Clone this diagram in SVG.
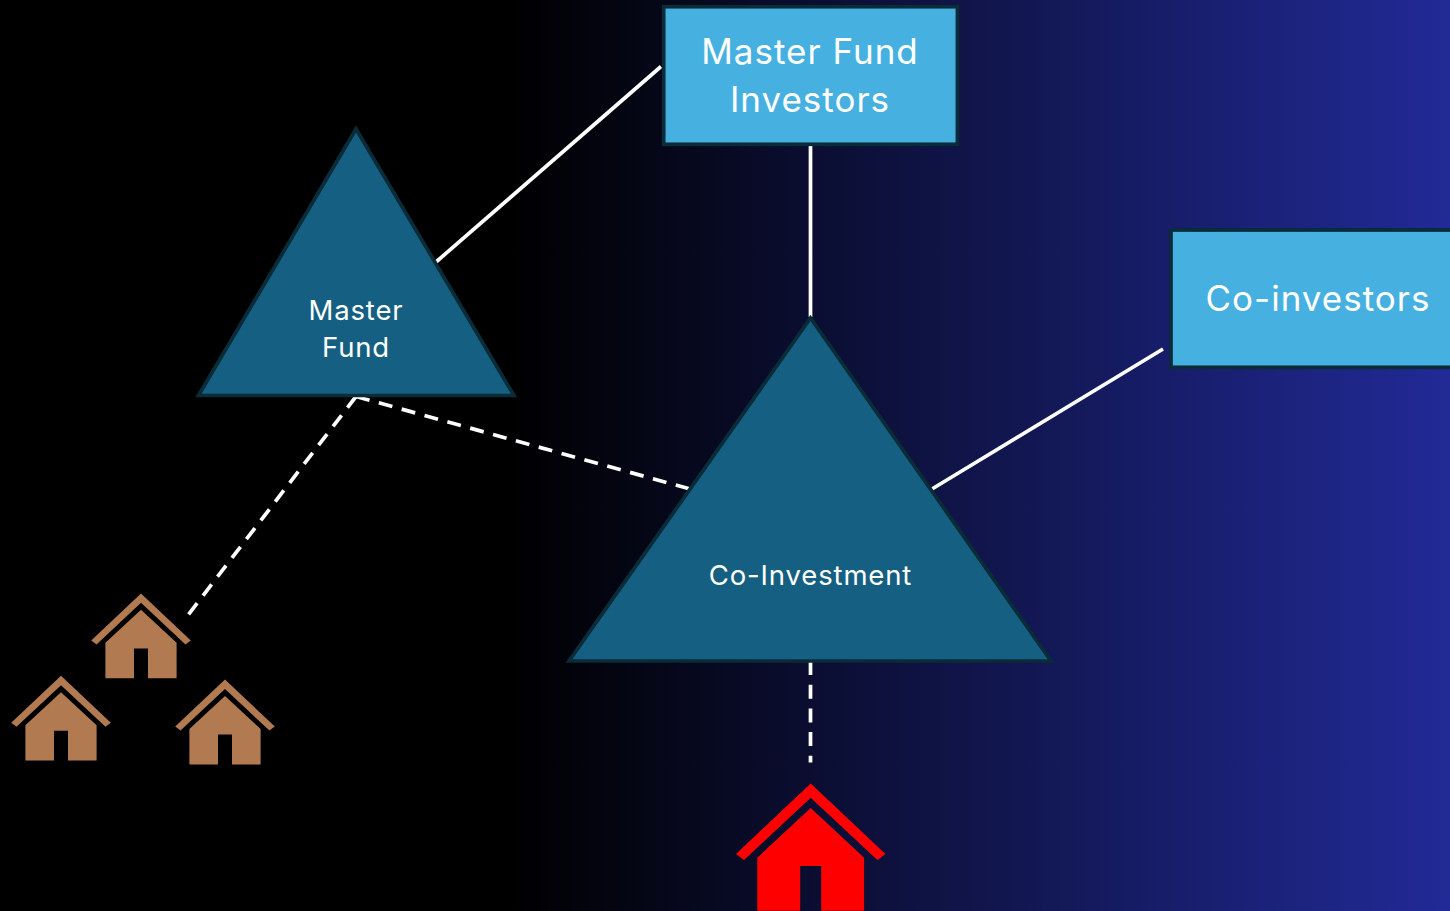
<svg xmlns="http://www.w3.org/2000/svg" width="1450" height="911" viewBox="0 0 1450 911">
<style>
.box{fill:#46b1e1;stroke:#0a2b38;stroke-width:3.7}
.tri{fill:#156082;stroke:#0a2b38;stroke-width:3.7;stroke-linejoin:miter}
.c{stroke:#fff;stroke-width:3.7;fill:none}
.d{stroke-dasharray:14 9.7}
text{font-family:"Inter","Noto Sans","Liberation Sans",sans-serif;fill:#fff;text-anchor:middle}
.lg{font-size:35px;letter-spacing:1px}
.sm{font-size:27.5px;letter-spacing:.85px}
</style>
<defs>
<linearGradient id="bg" x1="0" y1="0" x2="1" y2="0">
<stop offset="0" stop-color="#000"/>
<stop offset="0.35" stop-color="#000"/>
<stop offset="1" stop-color="#212a96"/>
</linearGradient>
<path id="house" d="M0 0L74.7 70.5L66.7 76.5L0 14.2L-66.7 76.5L-74.7 70.5ZM0 24.5L53.4 74.2V127.2H10.5V82.5H-10.5V127.2H-53.4V74.2Z"/>
</defs>
<rect width="1450" height="911" fill="url(#bg)"/>
<g id="connectors">
<line class="c" x1="661" y1="66.5" x2="436" y2="262"/>
<line class="c" x1="810.5" y1="144" x2="810.5" y2="317"/>
<line class="c" x1="1163" y1="349" x2="932" y2="489"/>
<line class="c d" x1="356" y1="396.5" x2="690" y2="489"/>
<line class="c d" x1="356" y1="396.5" x2="188.5" y2="614.5"/>
<line class="c d" x1="810.5" y1="661" x2="810.5" y2="762.5"/>
</g>
<g id="master-fund-investors">
<rect class="box" x="663.7" y="6.7" width="293.7" height="137.6"/>
<text class="lg" x="810" y="63.5">Master Fund</text>
<text class="lg" x="810" y="111.5">Investors</text>
</g>
<g id="co-investors">
<rect class="box" x="1171" y="230" width="290" height="137.3"/>
<text class="lg" x="1318" y="310.5">Co-investors</text>
</g>
<g id="master-fund">
<polygon class="tri" points="356,129 514,395.5 198.5,395.5"/>
<text class="sm" x="356" y="320">Master</text>
<text class="sm" x="356" y="356.5">Fund</text>
</g>
<g id="co-investment">
<polygon class="tri" points="810.5,318 1051,661 569,661"/>
<text class="sm" x="810.5" y="584.5">Co-Investment</text>
</g>
<g id="house-1"><use href="#house" transform="translate(141 593.4) scale(.6667)" fill="#b17a50"/></g>
<g id="house-2"><use href="#house" transform="translate(61 675.8) scale(.6667)" fill="#b17a50"/></g>
<g id="house-3"><use href="#house" transform="translate(225 679.6) scale(.6667)" fill="#b17a50"/></g>
<g id="house-red"><use href="#house" transform="translate(810.7 783.5)" fill="#f00"/></g>
</svg>
